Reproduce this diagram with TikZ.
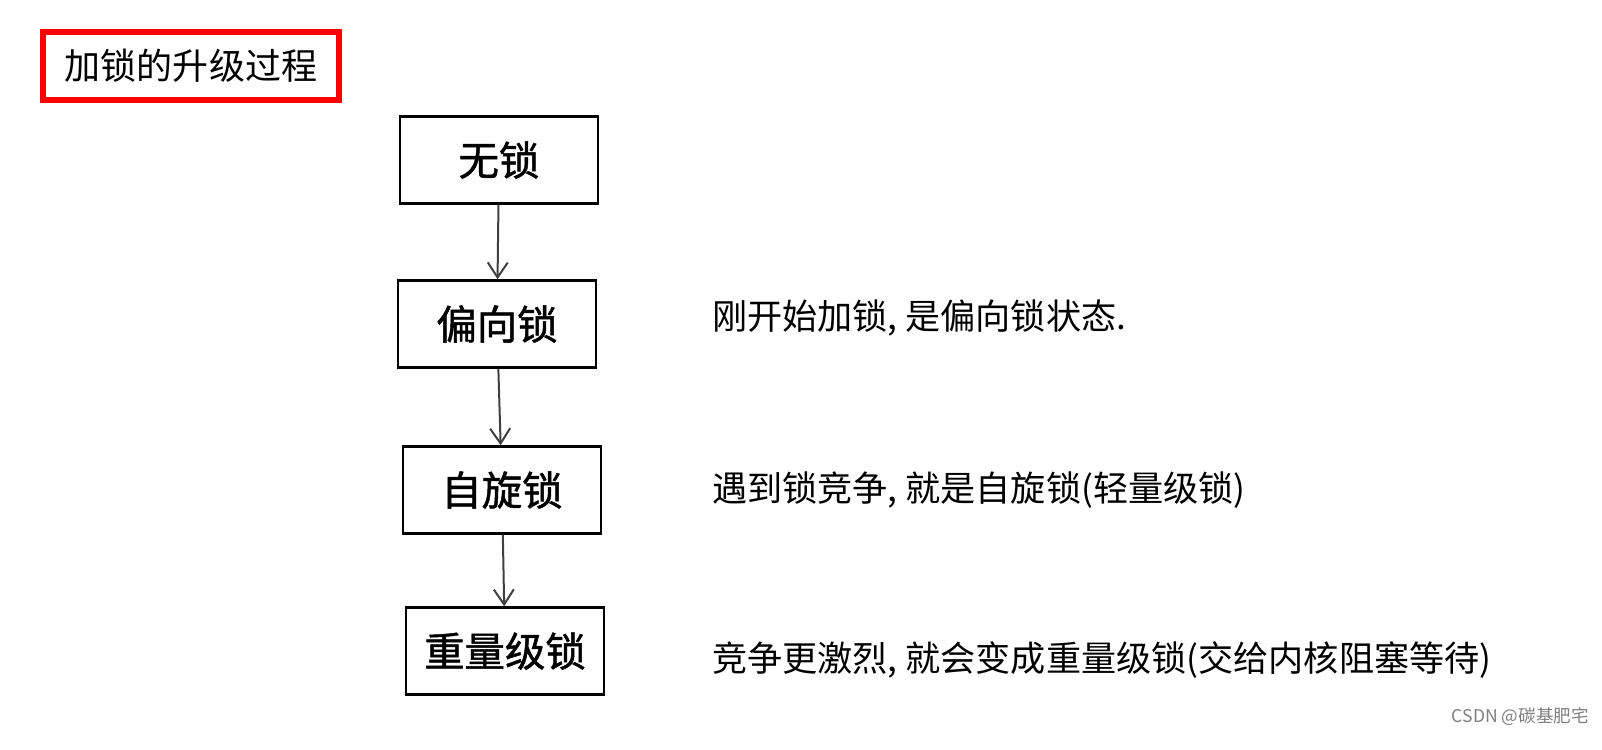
\documentclass[tikz,border=0pt]{standalone}
\usepackage{fontspec}
\setmainfont{Noto Sans CJK SC}
\newfontfamily\boxfont[FakeBold=1.2]{Noto Sans CJK SC}
\usetikzlibrary{positioning,arrows.meta}
\tikzset{
  lockbox/.style={draw, line width=0.5mm, minimum width=3.96cm, minimum height=1.74cm, font=\boxfont\fontsize{23}{26}\selectfont},
  note/.style={anchor=west, font=\fontsize{20}{24}\selectfont},
  step arrow/.style={-{Straight Barb[length=3mm,width=4mm]}, line width=0.4mm, darkgray},
}
\begin{document}
\begin{tikzpicture}[x=0.02cm,y=-0.02cm]
\useasboundingbox[fill=white] (0,0) rectangle (1602,750);
\node[draw=red, line width=1.2mm, minimum width=5.94cm, minimum height=1.38cm, font=\fontsize{20.5}{24}\selectfont](title) at (191,66) {加锁的升级过程};

\node[lockbox](A) at (499,160) {无锁};
\node[lockbox](B) at (497,324) {偏向锁};
\node[lockbox](C) at (502,490) {自旋锁};
\node[lockbox](D) at (505,651) {重量级锁};

\draw[step arrow] (A) -- (B);
\draw[step arrow] (B) -- (C);
\draw[step arrow] (C) -- (D);

\node[note](nb) at (706,318) {刚开始加锁, 是偏向锁状态.};
\node[note](nc) at (706,490) {遇到锁竞争, 就是自旋锁(轻量级锁)};
\node[note](nd) at (706,660) {竞争更激烈, 就会变成重量级锁(交给内核阻塞等待)};

\node[anchor=east, text=gray, font=\fontsize{10}{12}\selectfont](mark) at (1595,717) {CSDN @碳基肥宅};
\end{tikzpicture}
\end{document}
